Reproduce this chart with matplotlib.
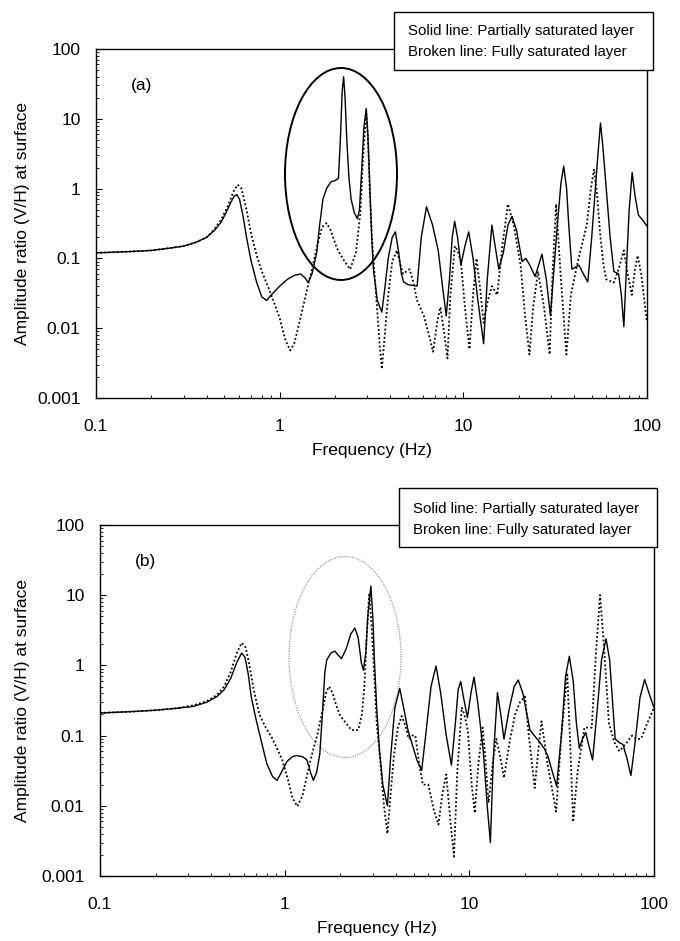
import matplotlib
matplotlib.use("Agg")
import matplotlib.pyplot as plt
from matplotlib.patches import Ellipse, Rectangle
from matplotlib.ticker import LogLocator, NullFormatter, FixedLocator, FixedFormatter

plt.rcParams["font.family"] = ["Liberation Sans", "DejaVu Sans"]

# panel (a) (frequency in Hz, V/H amplitude ratio)
freq_a_solid = [0.1, 0.15, 0.2, 0.25, 0.3, 0.35, 0.4, 0.44, 0.48, 0.51, 0.54, 0.565, 0.585,
                0.605, 0.63, 0.66, 0.7, 0.75, 0.8, 0.85, 0.9, 1.0, 1.1, 1.2, 1.3, 1.38,
                1.43, 1.5, 1.59, 1.65, 1.72, 1.8, 1.9, 2.0, 2.09, 2.14, 2.19, 2.23, 2.27,
                2.32, 2.38, 2.45, 2.55, 2.65, 2.72, 2.8, 2.88, 2.96, 3.02, 3.1, 3.17,
                3.24, 3.4, 3.6, 3.75, 3.9, 4.1, 4.27, 4.45, 4.6, 4.73, 5.0, 5.6, 5.9,
                6.3, 6.8, 7.3, 7.7, 8.07, 8.4, 8.7, 8.97, 9.3, 9.7, 10.2, 10.7, 11.3,
                12.0, 12.9, 13.5, 14.3, 14.9, 15.6, 16.5, 17.5, 18.4, 19.5, 20.9, 21.9,
                23, 24.6, 26.8, 28.3, 29.8, 31, 32.5, 34, 35.2, 36.5, 37.5, 39, 42.6,
                45, 47.6, 50, 52, 54, 55.8, 57.5, 60, 63, 66, 70, 72.5, 74.8, 77, 80,
                83, 86, 89.7, 95, 100]
amp_a_solid = [0.12, 0.125, 0.13, 0.14, 0.15, 0.17, 0.2, 0.25, 0.33, 0.45, 0.62, 0.78, 0.82,
               0.7, 0.42, 0.2, 0.09, 0.045, 0.028, 0.025, 0.03, 0.04, 0.05, 0.057, 0.06, 0.052,
               0.045, 0.06, 0.12, 0.3, 0.7, 1.0, 1.25, 1.3, 1.4, 5, 25, 40, 20,
               5, 1.5, 0.7, 0.45, 0.37, 0.5, 2.0, 8, 14, 6, 1.0, 0.2,
               0.07, 0.025, 0.017, 0.04, 0.1, 0.2, 0.24, 0.12, 0.06, 0.046, 0.042, 0.04, 0.2,
               0.55, 0.3, 0.13, 0.04, 0.015, 0.05, 0.2, 0.34, 0.2, 0.08, 0.15, 0.24, 0.1,
               0.025, 0.006, 0.05, 0.3, 0.15, 0.07, 0.12, 0.3, 0.4, 0.25, 0.09, 0.1,
               0.08, 0.055, 0.115, 0.05, 0.015, 0.06, 0.3, 1.2, 2.1, 1.0, 0.3, 0.07, 0.08,
               0.06, 0.046, 0.2, 0.8, 3, 8.7, 4, 1.0, 0.2, 0.065, 0.06, 0.03, 0.0105, 0.06, 0.5,
               1.7, 0.8, 0.42, 0.35, 0.29]

freq_a_broken = [0.1, 0.15, 0.2, 0.25, 0.3, 0.35, 0.4, 0.44, 0.48, 0.52, 0.56, 0.59, 0.62,
                 0.66, 0.7, 0.75, 0.8, 0.9, 1.0, 1.07, 1.14, 1.2, 1.28, 1.35, 1.41, 1.5,
                 1.6, 1.7, 1.8, 1.9, 2.05, 2.2, 2.42, 2.6, 2.75, 2.85, 2.96, 3.03, 3.1,
                 3.2, 3.35, 3.5, 3.6, 3.7, 3.9, 4.1, 4.35, 4.55, 4.7, 4.9, 5.1, 5.35,
                 5.6, 6.1, 6.5, 6.84, 7.2, 7.5, 7.8, 8.2, 8.5, 9.0, 9.3, 9.7, 10.2, 10.8,
                 11.3, 11.8, 12.3, 12.9, 13.6, 14.3, 15.3, 16.3, 17.5, 18.8, 20.5, 21.7,
                 22.9, 24, 25.5, 27.5, 29.5, 30.5, 32, 34, 36.4, 38.5, 42, 47, 49.5,
                 51.5, 53.5, 55.8, 58, 60, 66, 70, 74.8, 78.5, 82.7, 86, 89, 93, 100]
amp_a_broken = [0.12, 0.125, 0.13, 0.14, 0.15, 0.17, 0.2, 0.26, 0.36, 0.55, 0.9, 1.14, 1.0,
                0.5, 0.22, 0.11, 0.065, 0.03, 0.014, 0.007, 0.0048, 0.006, 0.012, 0.022, 0.036, 0.07,
                0.15, 0.28, 0.32, 0.25, 0.14, 0.1, 0.07, 0.12, 0.45, 3, 13, 5, 0.8,
                0.15, 0.03, 0.006, 0.0026, 0.006, 0.03, 0.09, 0.13, 0.08, 0.06, 0.065, 0.07, 0.045,
                0.025, 0.015, 0.008, 0.0046, 0.012, 0.02, 0.01, 0.0037, 0.03, 0.15, 0.13, 0.09, 0.02,
                0.005, 0.03, 0.1, 0.04, 0.012, 0.025, 0.04, 0.03, 0.15, 0.6, 0.3, 0.08, 0.015,
                0.0042, 0.02, 0.065, 0.02, 0.0042, 0.05, 0.6, 0.05, 0.0042, 0.03, 0.09, 0.3, 1.0,
                1.9, 0.8, 0.2, 0.08, 0.05, 0.045, 0.07, 0.13, 0.06, 0.03, 0.07, 0.11, 0.06, 0.012]

# panel (b)
freq_b_solid = [0.1, 0.15, 0.2, 0.26, 0.32, 0.38, 0.43, 0.47, 0.51, 0.55, 0.585, 0.61, 0.635,
                0.66, 0.7, 0.75, 0.8, 0.86, 0.91, 0.96, 1.03, 1.1, 1.16, 1.25, 1.32, 1.38,
                1.43, 1.49, 1.55, 1.6, 1.65, 1.69, 1.78, 1.87, 1.95, 2.03, 2.15, 2.28,
                2.4, 2.5, 2.6, 2.67, 2.75, 2.82, 2.93, 3.0, 3.07, 3.15, 3.25, 3.4, 3.6,
                3.75, 3.95, 4.2, 4.45, 4.65, 4.87, 5.2, 5.52, 5.8, 6.2, 6.6, 7.0, 7.5,
                8.0, 8.4, 8.7, 8.98, 9.3, 9.77, 10.2, 10.6, 11.1, 11.9, 12.5, 13.0, 13.5,
                14.2, 14.8, 15.4, 16.5, 17.5, 18.4, 19.5, 21.3, 22.5, 24.1, 25.5, 26.7,
                28.2, 29.7, 31.5, 33.2, 34.8, 36.5, 38, 39.4, 41, 42.7, 44.5, 46.5, 49,
                52, 55, 57.5, 61.6, 64.5, 67.8, 71, 75, 79, 84, 89, 94, 100]
amp_b_solid = [0.21, 0.22, 0.23, 0.245, 0.26, 0.3, 0.36, 0.45, 0.65, 1.1, 1.5, 1.3, 0.75,
               0.35, 0.17, 0.08, 0.04, 0.026, 0.023, 0.03, 0.043, 0.05, 0.052, 0.05, 0.045, 0.03,
               0.023, 0.03, 0.055, 0.2, 0.8, 1.2, 1.5, 1.6, 1.4, 1.25, 1.7, 2.8,
               3.4, 2.5, 1.1, 0.85, 1.5, 5, 13.5, 5, 1.0, 0.25, 0.07, 0.02, 0.010,
               0.05, 0.25, 0.47, 0.22, 0.12, 0.08, 0.045, 0.032, 0.1, 0.5, 0.98, 0.4, 0.1,
               0.038, 0.15, 0.45, 0.59, 0.35, 0.18, 0.4, 0.68, 0.3, 0.06, 0.01, 0.003, 0.05,
               0.41, 0.2, 0.089, 0.25, 0.5, 0.62, 0.4, 0.12, 0.1, 0.08, 0.065, 0.05,
               0.03, 0.019, 0.1, 0.7, 1.35, 0.6, 0.15, 0.066, 0.09, 0.11, 0.07, 0.045, 0.2,
               1.2, 2.4, 1.2, 0.09, 0.08, 0.075, 0.05, 0.027, 0.08, 0.35, 0.63, 0.4, 0.25]

freq_b_broken = [0.1, 0.15, 0.2, 0.26, 0.32, 0.38, 0.43, 0.47, 0.51, 0.55, 0.585, 0.615, 0.64,
                 0.68, 0.73, 0.79, 0.85, 0.91, 0.97, 1.05, 1.1, 1.17, 1.25, 1.35, 1.42, 1.5,
                 1.6, 1.68, 1.74, 1.82, 1.9, 2.0, 2.15, 2.3, 2.5, 2.62, 2.7, 2.78, 2.87,
                 2.95, 3.05, 3.15, 3.3, 3.45, 3.6, 3.75, 3.9, 4.1, 4.3, 4.5, 4.7, 4.9,
                 5.1, 5.35, 5.6, 6.0, 6.4, 6.8, 7.15, 7.5, 7.9, 8.26, 8.6, 9.1, 9.4, 9.8,
                 10.3, 10.7, 11.2, 11.8, 12.2, 12.7, 13.4, 14.0, 14.7, 15.4, 16.5, 17.7,
                 18.8, 20, 21, 22.6, 23.6, 24.6, 26.5, 29.5, 31.5, 33.9, 35.3, 36.5, 38.5,
                 42, 46, 48.5, 51, 53.5, 57, 61, 65, 70, 76, 80, 85, 92, 100]
amp_b_broken = [0.21, 0.22, 0.23, 0.245, 0.27, 0.31, 0.38, 0.5, 0.8, 1.5, 2.1, 1.8, 1.1,
                0.45, 0.2, 0.13, 0.095, 0.065, 0.045, 0.022, 0.013, 0.0098, 0.014, 0.035, 0.06, 0.1,
                0.22, 0.42, 0.5, 0.4, 0.27, 0.19, 0.15, 0.12, 0.12, 0.2, 0.5, 2.5, 10.6,
                4, 0.8, 0.15, 0.04, 0.01, 0.004, 0.015, 0.05, 0.13, 0.19, 0.14, 0.09, 0.1,
                0.1, 0.04, 0.02, 0.02, 0.009, 0.0054, 0.015, 0.028, 0.006, 0.0019, 0.03, 0.25, 0.2, 0.12,
                0.02, 0.0079, 0.04, 0.13, 0.05, 0.011, 0.04, 0.09, 0.05, 0.025, 0.08, 0.2,
                0.3, 0.36, 0.1, 0.018, 0.06, 0.16, 0.04, 0.0083, 0.1, 0.78, 0.06, 0.0059, 0.03,
                0.13, 0.13, 1.5, 10, 2, 0.15, 0.08, 0.06, 0.075, 0.1, 0.09, 0.09, 0.15, 0.25]

x_ticks = [0.1, 1, 10, 100]
x_tick_labels = ["0.1", "1", "10", "100"]
y_ticks = [0.001, 0.01, 0.1, 1, 10, 100]
y_tick_labels = ["0.001", "0.01", "0.1", "1", "10", "100"]
legend_lines = ["Solid line: Partially saturated layer", "Broken line: Fully saturated layer"]

W, H = 680, 941


def fx(px):
    return px / W


def fy(py):
    return 1 - py / H


def make_panel(fig, box, fs, as_, fb, ab, tag, ell, ell_style, legend_box, text_y):
    left, top, right, bottom = box
    ax = fig.add_axes([fx(left), fy(bottom), fx(right - left), (bottom - top) / H])
    ax.plot(fs, as_, color="black", lw=1.0)
    ax.plot(fb, ab, color="black", lw=1.3, linestyle=(0, (1, 1.3)))
    ax.set_xscale("log")
    ax.set_yscale("log")
    ax.set_xlim(0.1, 100)
    ax.set_ylim(0.001, 100)
    ax.xaxis.set_major_locator(FixedLocator(x_ticks))
    ax.xaxis.set_major_formatter(FixedFormatter(x_tick_labels))
    ax.yaxis.set_major_locator(FixedLocator(y_ticks))
    ax.yaxis.set_major_formatter(FixedFormatter(y_tick_labels))
    ax.xaxis.set_minor_locator(LogLocator(base=10, subs=range(2, 10), numticks=20))
    ax.yaxis.set_minor_locator(LogLocator(base=10, subs=range(2, 10), numticks=20))
    ax.xaxis.set_minor_formatter(NullFormatter())
    ax.yaxis.set_minor_formatter(NullFormatter())
    ax.tick_params(axis="both", which="both", direction="in", top=False, right=False)
    ax.tick_params(axis="both", which="major", length=4, width=0.8, labelsize=12.5)
    ax.tick_params(axis="both", which="minor", length=2.5, width=0.6)
    ax.tick_params(axis="x", which="major", pad=15)
    ax.tick_params(axis="y", which="major", pad=11)
    for s in ax.spines.values():
        s.set_linewidth(1.0)

    ax.text(0.082, 0.895, tag, transform=ax.transAxes, fontsize=12.5,
            ha="center", va="center")

    cx, cy, ew, eh = ell
    ax.add_patch(Ellipse(((cx - left) / (right - left), (bottom - cy) / (bottom - top)),
                         ew / (right - left), eh / (bottom - top),
                         transform=ax.transAxes, fill=False, **ell_style))

    # legend box sits over the top spine
    lx0, ly0, lx1, ly1 = legend_box
    fig.add_artist(Rectangle((fx(lx0), fy(ly1)), fx(lx1 - lx0), (ly1 - ly0) / H,
                             transform=fig.transFigure, facecolor="white",
                             edgecolor="black", lw=1.0, zorder=5))
    for line, ty in zip(legend_lines, text_y):
        fig.text(fx(lx0 + 14), fy(ty), line, fontsize=10.8, ha="left", va="center", zorder=6)

    fig.text(fx((left + right) / 2), fy(bottom + 52), "Frequency (Hz)", fontsize=12.5,
             ha="center", va="center")
    fig.text(fx(23), fy((top + bottom) / 2), "Amplitude ratio (V/H) at surface",
             fontsize=12.5, rotation=90, ha="center", va="center")
    return ax


fig = plt.figure(figsize=(W / 100, H / 100), dpi=100)

make_panel(fig, (96, 49, 647, 398), freq_a_solid, amp_a_solid, freq_a_broken, amp_a_broken,
           "(a)", (341, 174, 112, 212), dict(edgecolor="black", lw=1.4),
           (394, 12, 653, 70), (31, 52))
make_panel(fig, (100, 525, 654, 876), freq_b_solid, amp_b_solid, freq_b_broken, amp_b_broken,
           "(b)", (345, 657, 112, 201), dict(edgecolor="#9a9a9a", lw=0.9, linestyle=(0, (1, 1))),
           (399, 488, 657, 547), (509, 530))

fig.savefig("out.png", dpi=100)
